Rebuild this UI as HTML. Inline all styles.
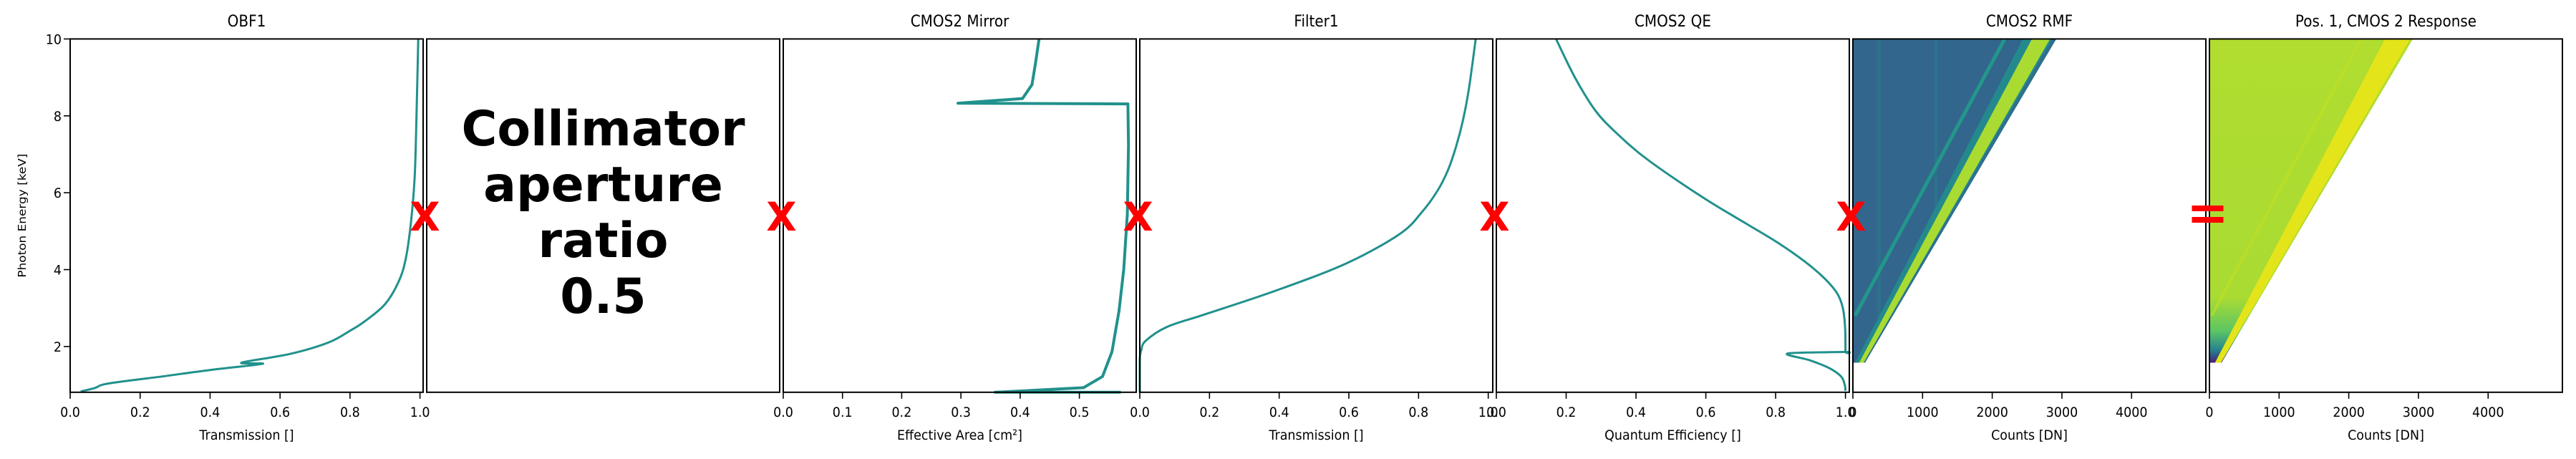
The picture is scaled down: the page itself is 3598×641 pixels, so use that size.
<!DOCTYPE html>
<html><head><meta charset="utf-8"><title>Response chain</title>
<style>
html,body{margin:0;padding:0;background:#fff;}
svg{display:block;}
text{font-family:"DejaVu Sans","Liberation Sans",sans-serif;}
</style></head>
<body>
<svg id="fig" xmlns="http://www.w3.org/2000/svg" width="3598" height="641" viewBox="0 0 3598 641"></svg>
<script>
// ---------- data ----------
const obfEnergy = [0.83,0.92,1.04,1.23,1.39,1.55,1.58,1.81,2.11,2.41,2.64,3.10,3.71,4.32,5.30,6.45,7.97,10];
const obfTrans  = [0.03,0.07,0.11,0.27,0.40,0.55,0.49,0.63,0.74,0.80,0.84,0.90,0.94,0.96,0.975,0.985,0.99,0.995];
const mirrorEnergy = [0.81,0.81,0.93,1.22,1.86,2.93,4.01,5.45,7.23,8.31,8.33,8.45,8.81,9.38,10];
const mirrorArea   = [0.57,0.358,0.507,0.539,0.555,0.567,0.575,0.581,0.583,0.582,0.295,0.404,0.420,0.426,0.432];
const filterEnergy = [0.81,1.6,1.78,1.89,2.14,2.51,2.82,3.44,4.15,4.92,5.5,6.06,6.6,7.21,7.9,8.73,10];
const filterTrans  = [0.0,0.0,0.001,0.004,0.016,0.078,0.181,0.386,0.59,0.745,0.81,0.855,0.885,0.908,0.928,0.945,0.964];
const qeEnergy = [0.85,1.0,1.19,1.35,1.50,1.65,1.82,1.86,1.88,2.5,3.02,3.4,3.78,4.2,4.69,5.2,5.76,6.4,6.98,7.5,8.12,9.0,10];
const qeValue  = [1.0,0.998,0.99,0.97,0.939,0.895,0.835,1.0,1.0,0.999,0.992,0.975,0.939,0.885,0.808,0.715,0.612,0.505,0.416,0.35,0.285,0.225,0.171];
const rmfEnergy = [1.58,10];
const rmfEdgeCounts = [175,2920];
const rmfPeakCounts = [120,2700];
const rmfEscapeCounts = [0,2180];
const rmfEscapeStartEnergy = 2.8;
const rmfStripeCounts = [380,1200];
const panelTitles = ["OBF1","","CMOS2 Mirror","Filter1","CMOS2 QE","CMOS2 RMF","Pos. 1, CMOS 2 Response"];
const panelXLabels = ["Transmission []","","Effective Area [cm²]","Transmission []","Quantum Efficiency []","Counts [DN]","Counts [DN]"];
const panelXMax = [1.009,1,0.596,1.013,1.011,5066,5066];
const panelTicks = [[0,0.2,0.4,0.6,0.8,1.0],[],[0,0.1,0.2,0.3,0.4,0.5],[0,0.2,0.4,0.6,0.8,1.0],[0,0.2,0.4,0.6,0.8,1.0],[0,1000,2000,3000,4000],[0,1000,2000,3000,4000]];
const panelTickLabels = [["0.0","0.2","0.4","0.6","0.8","1.0"],[],["0.0","0.1","0.2","0.3","0.4","0.5"],["0.0","0.2","0.4","0.6","0.8","1.0"],["0.0","0.2","0.4","0.6","0.8","1.0"],["0","1000","2000","3000","4000"],["0","1000","2000","3000","4000"]];
const yTicks = [2,4,6,8,10];
const yTickLabels = ["2","4","6","8","10"];
const collimatorLines = ["Collimator","aperture","ratio","0.5"];
const operators = ["X","X","X","X","X","="];

// ---------- layout ----------
const NS="http://www.w3.org/2000/svg";
const svg=document.getElementById('fig');
const L0=98, PW=493, STEP=498, TOP=54.4, BOT=547.8, YMIN=0.81, YMAX=10;
const SY=1.09;
function sy(e){return BOT-(e-YMIN)/(YMAX-YMIN)*(BOT-TOP);}
function mk(tag,attrs,parent){const el=document.createElementNS(NS,tag);for(const k in attrs)el.setAttribute(k,attrs[k]);(parent||svg).appendChild(el);return el;}
function txt(x,y,s,size,anchor,parent){
  const t=mk('text',{transform:`translate(${x},${y}) scale(1,${SY})`,'font-size':size,'text-anchor':anchor||'middle',fill:'#000'},parent);
  t.textContent=s;return t;}
function smoothPath(pts,smooth){
  let d='M'+pts[0][0].toFixed(1)+' '+pts[0][1].toFixed(1);
  for(let i=0;i<pts.length-1;i++){
    const p0=pts[Math.max(0,i-1)],p1=pts[i],p2=pts[i+1],p3=pts[Math.min(pts.length-1,i+2)];
    if(!smooth){d+='L'+p2[0].toFixed(1)+' '+p2[1].toFixed(1);continue;}
    const c1=[p1[0]+(p2[0]-p0[0])/6,p1[1]+(p2[1]-p0[1])/6];
    const c2=[p2[0]-(p3[0]-p1[0])/6,p2[1]-(p3[1]-p1[1])/6];
    d+=`C${c1[0].toFixed(1)} ${c1[1].toFixed(1)} ${c2[0].toFixed(1)} ${c2[1].toFixed(1)} ${p2[0].toFixed(1)} ${p2[1].toFixed(1)}`;
  }
  return d;
}
const teal='#21918c';

for(let p=0;p<7;p++){
  const left=L0+p*STEP;
  const sx=v=>left+v/panelXMax[p]*PW;
  const g=mk('g',{});
  
  
  if(p===0||p===2||p===3||p===4){
    const E=[obfEnergy,null,mirrorEnergy,filterEnergy,qeEnergy][p];
    const V=[obfTrans,null,mirrorArea,filterTrans,qeValue][p];
    const pts=E.map((e,i)=>[sx(V[i]),sy(e)]);
    const path=mk('path',{d:smoothPath(pts,p!==2),fill:'none',stroke:teal,'stroke-width':p===2?4:3,'stroke-linejoin':'round'},g);
    
    
  }
  if(p===5||p===6){
    const e0=rmfEnergy[0],e1=rmfEnergy[1];
    const tri=`${sx(0)},${sy(e0)} ${sx(rmfEdgeCounts[0])},${sy(e0)} ${sx(rmfEdgeCounts[1])},${sy(e1)} ${sx(0)},${sy(e1)}`;
    const defs=mk('defs',{},g);
    const cp=mk('clipPath',{id:'clip'+p},defs);
    mk('polygon',{points:tri},cp);
    const cg=mk('g',{'clip-path':`url(#clip${p})`},g);
    
    
    if(p===5){
      const bg=mk('polygon',{points:tri,fill:'#32668d'},cg);
      
      
      for(const c of rmfStripeCounts){
        const s=mk('rect',{x:sx(c)-3,y:TOP,width:5,height:sy(e0)-TOP,fill:'#2a7a8c',opacity:0.6},cg);
        
        
      }
      const esc=mk('line',{x1:sx(rmfEscapeCounts[0])+3,y1:sy(rmfEscapeStartEnergy),x2:sx(rmfEscapeCounts[1]),y2:sy(e1),stroke:'#22978a','stroke-width':5},cg);
      
      
      const b1=mk('polygon',{points:`${sx(rmfPeakCounts[0]-90)},${sy(e0)} ${sx(rmfEdgeCounts[0])},${sy(e0)} ${sx(rmfEdgeCounts[1])},${sy(e1)} ${sx(rmfPeakCounts[1]-260)},${sy(e1)}`,fill:'#23898d'},cg);
      
      
      const b2=mk('polygon',{points:`${sx(rmfPeakCounts[0]-30)},${sy(e0)} ${sx(rmfEdgeCounts[0]-20)},${sy(e0)} ${sx(rmfEdgeCounts[1]-90)},${sy(e1)} ${sx(rmfPeakCounts[1]-130)},${sy(e1)}`,fill:'#a9db33'},cg);
      
      
      const b3=mk('polygon',{points:`${sx(rmfEdgeCounts[0]-20)},${sy(e0)} ${sx(rmfEdgeCounts[0])},${sy(e0)} ${sx(rmfEdgeCounts[1])},${sy(e1)} ${sx(rmfEdgeCounts[1]-60)},${sy(e1)}`,fill:'#2f6f8e'},cg);
      
      
    } else {
      const lg=mk('linearGradient',{id:'respGrad',gradientUnits:'userSpaceOnUse',x1:0,y1:TOP,x2:0,y2:sy(e0)},defs);
      mk('stop',{offset:'0','stop-color':'#b0dd2f'},lg);
      mk('stop',{offset:'0.80','stop-color':'#a9db33'},lg);
      mk('stop',{offset:'0.90','stop-color':'#5ec662'},lg);
      mk('stop',{offset:'0.96','stop-color':'#25858e'},lg);
      mk('stop',{offset:'1','stop-color':'#46207a'},lg);
      const bg=mk('polygon',{points:tri,fill:'url(#respGrad)'},cg);
      
      
      const esc=mk('line',{x1:sx(rmfEscapeCounts[0])+3,y1:sy(rmfEscapeStartEnergy),x2:sx(rmfEscapeCounts[1]),y2:sy(e1),stroke:'#c3df22','stroke-width':4,opacity:0.6},cg);
      
      
      const b=mk('polygon',{points:`${sx(rmfPeakCounts[0]-40)},${sy(e0)} ${sx(rmfEdgeCounts[0]-10)},${sy(e0)} ${sx(rmfEdgeCounts[1]-40)},${sy(e1)} ${sx(rmfPeakCounts[1]-180)},${sy(e1)}`,fill:'#e4e41a'},cg);
      
      
    }
  }
  if(p===1){
    collimatorLines.forEach((s,i)=>{
      const t=mk('text',{x:left+PW/2,y:203+i*78,'font-size':68,'font-weight':'bold','text-anchor':'middle',fill:'#000'},g);
      t.textContent=s;
      
      
    });
  }
  const fr=mk('rect',{x:left,y:TOP,width:PW,height:BOT-TOP,fill:'none',stroke:'#000','stroke-width':2},g);
  
  
  if(panelTitles[p]){
    const t=txt(left+PW/2,37,panelTitles[p],20,'middle',g);
    
    
  }
  panelTicks[p].forEach((v,i)=>{
    const x=sx(v);
    const tk=mk('line',{x1:x,y1:BOT,x2:x,y2:BOT+9,stroke:'#000','stroke-width':1.6},g);
    
    
    const tl=txt(x,582,panelTickLabels[p][i],17.5,'middle',g);
    
    
  });
  if(panelXLabels[p]){
    const xl=txt(left+PW/2,614,panelXLabels[p],17.5,'middle',g);
    
    
  }
  if(p===0){
    yTicks.forEach((v,i)=>{
      const y=sy(v);
      const tk=mk('line',{x1:left-9,y1:y,x2:left,y2:y,stroke:'#000','stroke-width':1.6},g);
      
      
      const tl=mk('text',{transform:`translate(${left-12},${y+7}) scale(1,${SY})`,'font-size':17.5,'text-anchor':'end',fill:'#000'},g);
      tl.textContent=yTickLabels[i];
      
      
    });
    const yl=mk('text',{transform:`translate(36,${(TOP+BOT)/2}) rotate(-90) scale(${SY},1)`,'font-size':15.5,'text-anchor':'middle',fill:'#000'},g);
    yl.textContent='Photon Energy [keV]';
    
    
  }
}
operators.forEach((op,i)=>{
  const x=L0+(i+1)*STEP-2.5;
  if(op==='X'){
    const t=mk('text',{x:x,y:322,'font-size':55,'font-weight':'bold','text-anchor':'middle',fill:'#ff0000'});
    t.textContent='X';
    
    
  } else {
    const g=mk('g',{});
    
    
    mk('rect',{x:x-22,y:287,width:44,height:8,fill:'#ff0000'},g);
    mk('rect',{x:x-22,y:303,width:44,height:8,fill:'#ff0000'},g);
  }
});
</script>
</body></html>
